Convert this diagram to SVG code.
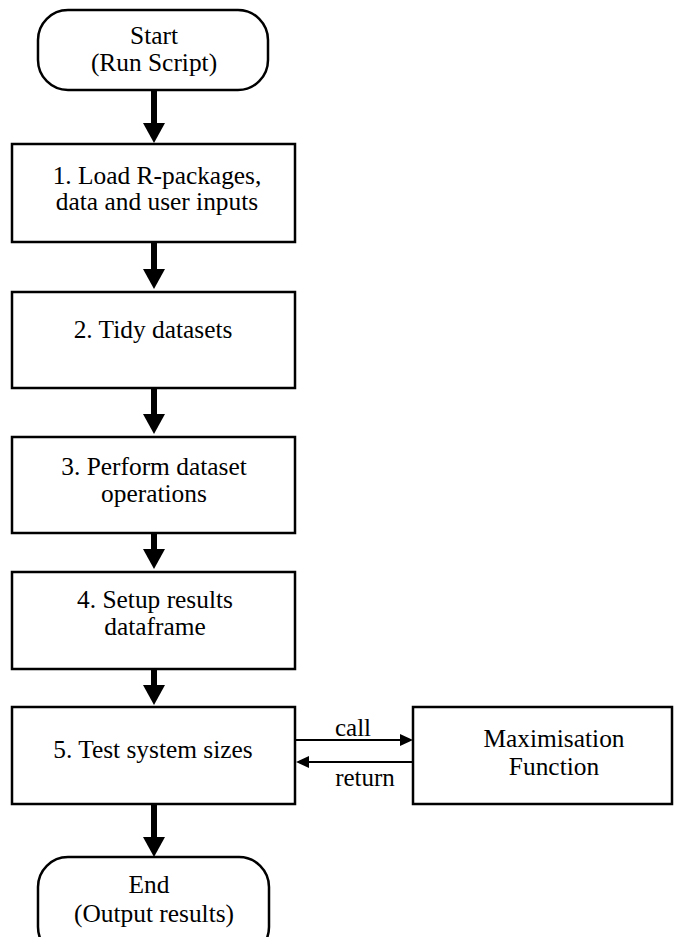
<svg xmlns="http://www.w3.org/2000/svg" width="686" height="937" viewBox="0 0 686 937">
<style>
.box{fill:#fff;stroke:#000;stroke-width:2.5}
.t{font-family:'Liberation Serif','Times New Roman',serif;font-size:25.4px;fill:#000;text-anchor:middle}
.s{font-family:'Liberation Serif','Times New Roman',serif;font-size:25px;fill:#000;text-anchor:middle}
.big{stroke:#000;stroke-width:6;fill:none}
.sm{stroke:#000;stroke-width:2;fill:none}
</style>
<defs>
<marker id="hb" viewBox="0 0 20 22" refX="0" refY="11" markerWidth="20" markerHeight="22" markerUnits="userSpaceOnUse" orient="auto"><path d="M0,0 L20,11 L0,22 Z" fill="#000"/></marker>
<marker id="hs" viewBox="0 0 13 12" refX="0" refY="6" markerWidth="13" markerHeight="12" markerUnits="userSpaceOnUse" orient="auto"><path d="M0,0 L13,6 L0,12 Z" fill="#000"/></marker>
</defs>
<g id="connectors">
<line class="big" x1="154" y1="90" x2="154" y2="123" marker-end="url(#hb)"/>
<line class="big" x1="154" y1="242" x2="154" y2="269" marker-end="url(#hb)"/>
<line class="big" x1="154" y1="388" x2="154" y2="414" marker-end="url(#hb)"/>
<line class="big" x1="154" y1="533" x2="154" y2="549" marker-end="url(#hb)"/>
<line class="big" x1="154" y1="669" x2="154" y2="685" marker-end="url(#hb)"/>
<line class="big" x1="154" y1="804" x2="154" y2="837" marker-end="url(#hb)"/>
<line class="sm" x1="296" y1="740" x2="400" y2="740" marker-end="url(#hs)"/>
<line class="sm" x1="413" y1="762" x2="309" y2="762" marker-end="url(#hs)"/>
<text class="s" x="353" y="736">call</text>
<text class="s" x="365" y="786">return</text>
</g>
<g id="start">
<rect class="box" x="38" y="10" width="230" height="80" rx="30" ry="30"/>
<text class="t" x="154" y="44">Start</text>
<text class="t" x="154" y="71">(Run Script)</text>
</g>
<g id="step1">
<rect class="box" x="12" y="144" width="283" height="98"/>
<text class="t" x="157" y="184">1. Load R-packages,</text>
<text class="t" x="157" y="210">data and user inputs</text>
</g>
<g id="step2">
<rect class="box" x="12" y="292" width="283" height="96"/>
<text class="t" x="153" y="338">2. Tidy datasets</text>
</g>
<g id="step3">
<rect class="box" x="12" y="437" width="283" height="96"/>
<text class="t" x="154" y="475">3. Perform dataset</text>
<text class="t" x="154" y="502">operations</text>
</g>
<g id="step4">
<rect class="box" x="12" y="572" width="283" height="97"/>
<text class="t" x="155" y="608">4. Setup results</text>
<text class="t" x="155" y="635">dataframe</text>
</g>
<g id="step5">
<rect class="box" x="12" y="707" width="283" height="97"/>
<text class="t" x="153" y="758">5. Test system sizes</text>
</g>
<g id="maximisation">
<rect class="box" x="413" y="707" width="259" height="97"/>
<text class="t" x="554" y="747">Maximisation</text>
<text class="t" x="554" y="775">Function</text>
</g>
<g id="end">
<rect class="box" x="38" y="857" width="231" height="100" rx="30" ry="30"/>
<text class="t" x="149" y="893">End</text>
<text class="t" x="154" y="922">(Output results)</text>
</g>
</svg>
